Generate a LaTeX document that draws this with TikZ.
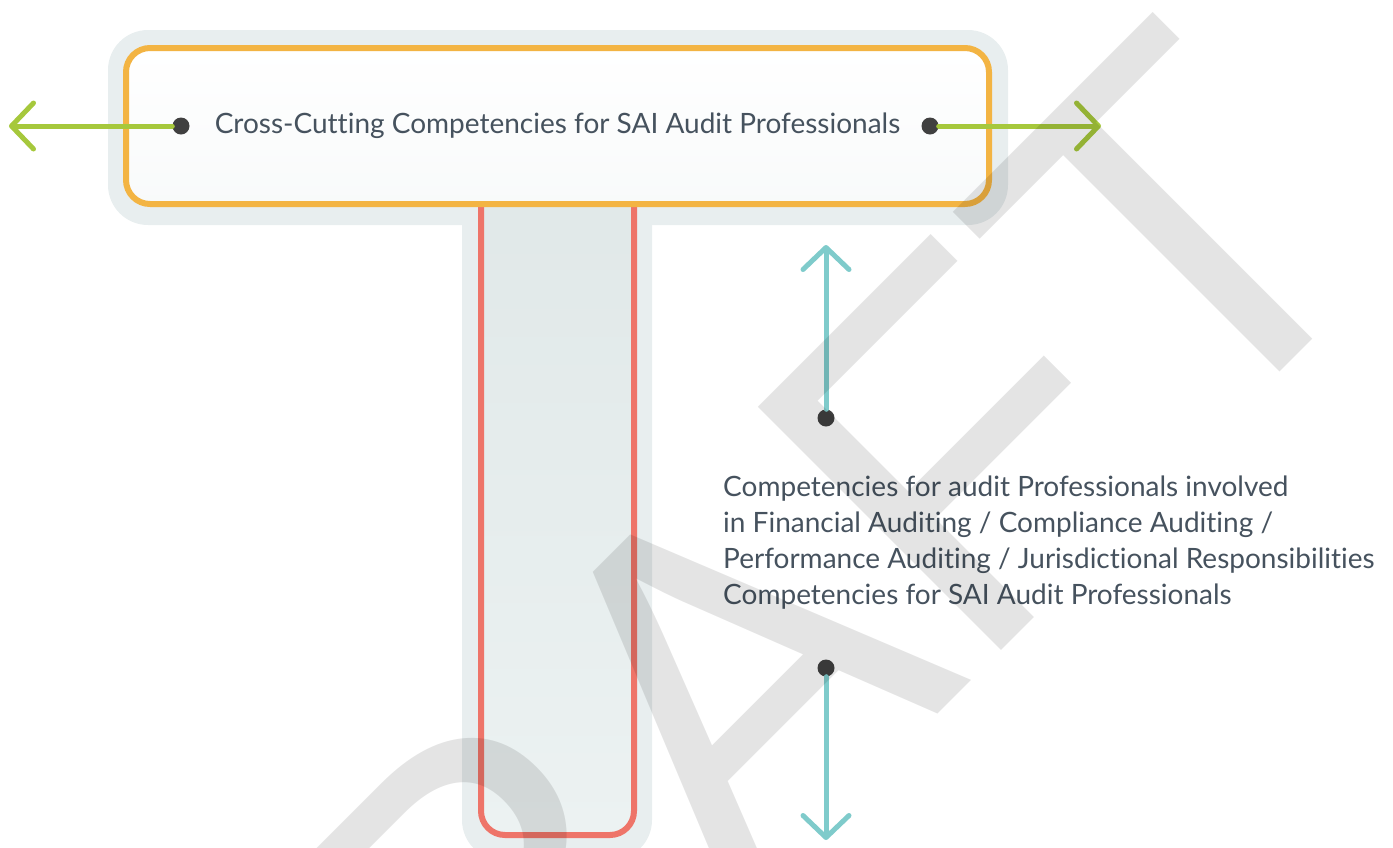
\documentclass[tikz,border=0pt]{standalone}
\usepackage{fontspec}
\setmainfont{Lato}[Ligatures=NoCommon]
\newfontfamily\wmfont{Liberation Sans}
\usetikzlibrary{arrows.meta, positioning}
\definecolor{boxorange}{RGB}{243,180,67}
\definecolor{stemred}{RGB}{238,116,105}
\definecolor{arrowgreen}{RGB}{166,200,60}
\definecolor{arrowteal}{RGB}{127,203,203}
\definecolor{halogray}{RGB}{232,238,239}
\definecolor{stemtop}{RGB}{224,232,232}
\definecolor{stembottom}{RGB}{236,242,242}
\definecolor{textgray}{RGB}{70,82,94}
\definecolor{dotgray}{RGB}{64,64,64}
\tikzstyle{halo} = [rectangle, rounded corners=40pt, fill=halogray]
\tikzstyle{topbox} = [rectangle, rounded corners=24pt, minimum width=863pt, minimum height=156pt, draw=boxorange, line width=6pt, top color=white, bottom color=halogray!30, text=textgray, font=\fontsize{28}{32}\selectfont]
\tikzstyle{stembox} = [rectangle, rounded corners=24pt, minimum width=153pt, minimum height=665pt, draw=stemred, line width=6pt, top color=stemtop, bottom color=stembottom]
\tikzstyle{dot} = [circle, fill=dotgray, inner sep=0pt, minimum size=17pt]
\tikzstyle{greenarrow} = [-{Straight Barb[length=22pt,width=46pt,round]}, draw=arrowgreen, line width=5pt, line cap=round]
\tikzstyle{tealarrow} = [-{Straight Barb[length=22pt,width=46pt,round]}, draw=arrowteal, line width=5pt, line cap=round]
\tikzstyle{blurb} = [rectangle, align=left, text=textgray, inner sep=0pt, font=\fontsize{28}{36}\selectfont]
\tikzstyle{watermark} = [rotate=45, anchor=base west, inner sep=0pt, text=black, text opacity=0.105, font=\wmfont\fontsize{500}{500}\selectfont]

\begin{document}
\begin{tikzpicture}[x=1pt, y=-1pt]
    \useasboundingbox (0,0) rectangle (1393,847);
    % halos behind the T
    \node (stemhalo) [halo, minimum width=190pt, minimum height=680pt] at (557,520) {};
    \node (tophalo) [halo, minimum width=900pt, minimum height=195pt] at (558,127.5) {};
    \node (stem) [stembox] at (557.5,502.5) {};
    \node (topbox) [topbox] at (557.5,126) {Cross-Cutting Competencies for SAI Audit Professionals};
    % side arrows
    \node (ldot) [dot] at (181,126) {};
    \node (rdot) [dot] at (930,126) {};
    \coordinate (lend) at (9,126);
    \coordinate (rend) at (1101,126);
    \draw [greenarrow] (ldot) -- (lend);
    \draw [greenarrow] (rdot) -- (rend);
    % up and down arrows
    \node (updot) [dot] at (826,418) {};
    \node (downdot) [dot] at (826,668) {};
    \coordinate (uptip) at (826,245);
    \coordinate (downtip) at (826,840);
    \draw [tealarrow] (updot) -- (uptip);
    \draw [tealarrow] (downdot) -- (downtip);
    \node (blurb) [blurb, anchor=north west] at (723,476) {Competencies for audit Professionals involved\\in Financial Auditing / Compliance Auditing /\\Performance Auditing / Jurisdictional Responsibilities\\Competencies for SAI Audit Professionals};
    \node (draft) [watermark] at (226,1426) {DRAFT};
\end{tikzpicture}
\end{document}
